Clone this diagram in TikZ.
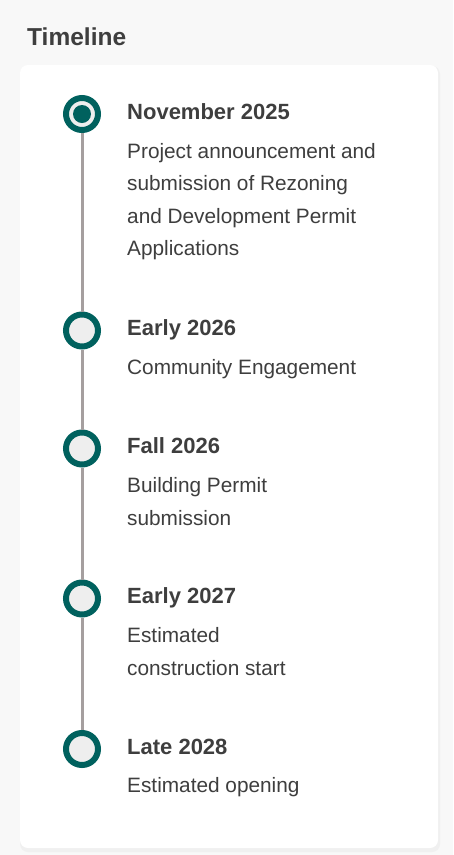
\documentclass[tikz,border=0pt]{standalone}
\usepackage{fontspec}
\setmainfont{Liberation Sans}
\definecolor{tlTeal}{HTML}{00615E}
\definecolor{tlText}{HTML}{3E3E3E}
\definecolor{tlRail}{HTML}{A59F9F}
\definecolor{tlDisc}{HTML}{EEEEEE}
\definecolor{tlPage}{HTML}{F8F8F8}
\definecolor{tlShade}{HTML}{F0F0F0}
\tikzset{
  milestone/.style={circle,draw=tlTeal,line width=6pt,fill=tlDisc,
    minimum size=32pt,inner sep=0pt},
  rail/.style={draw=tlRail,line width=3pt},
  when/.style={anchor=base west,inner sep=0pt,text=tlText,
    font=\fontsize{22}{26}\selectfont\bfseries},
  % base of a note is the baseline of its last line
  what/.style={anchor=base west,inner sep=0pt,text=tlText,align=left,
    font=\fontsize{20.8}{32.5}\selectfont},
}
\begin{document}
\begin{tikzpicture}[x=1pt,y=-1pt]
  \useasboundingbox[fill=tlPage] (0,0) rectangle (453,855);
  \fill[tlShade,rounded corners=8pt] (20,66) rectangle (440,852);
  \fill[white,rounded corners=8pt] (20,65) rectangle (438,848);
  \node[anchor=base west,inner sep=0pt,text=tlText,
    font=\fontsize{24.5}{30}\selectfont\bfseries] (title) at (27,45) {Timeline};
  % the five stops
  \node[milestone] (m1) at (82,114) {};
  \node[milestone] (m2) at (82,330.5) {};
  \node[milestone] (m3) at (82,448.5) {};
  \node[milestone] (m4) at (82,598.5) {};
  \node[milestone] (m5) at (82,749) {};
  \node[circle,fill=tlTeal,minimum size=18pt,inner sep=0pt] (now) at (m1) {};
  \path[rail] (m1.south) -- (m2.north);
  \path[rail] (m2.south) -- (m3.north);
  \path[rail] (m3.south) -- (m4.north);
  \path[rail] (m4.south) -- (m5.north);
  % dates and notes
  \node[when] (d1) at (127,119.5) {November 2025};
  \node[what] (t1) at (127,255.8) {Project announcement and\\submission of Rezoning\\and Development Permit\\Applications};
  \node[when] (d2) at (127,335) {Early 2026};
  \node[what] (t2) at (127,374) {Community Engagement};
  \node[when] (d3) at (127,453.5) {Fall 2026};
  \node[what] (t3) at (127,525) {Building Permit\\submission};
  \node[when] (d4) at (127,603.5) {Early 2027};
  \node[what] (t4) at (127,675) {Estimated\\construction start};
  \node[when] (d5) at (127,754) {Late 2028};
  \node[what] (t5) at (127,792.7) {Estimated opening};
\end{tikzpicture}
\end{document}
